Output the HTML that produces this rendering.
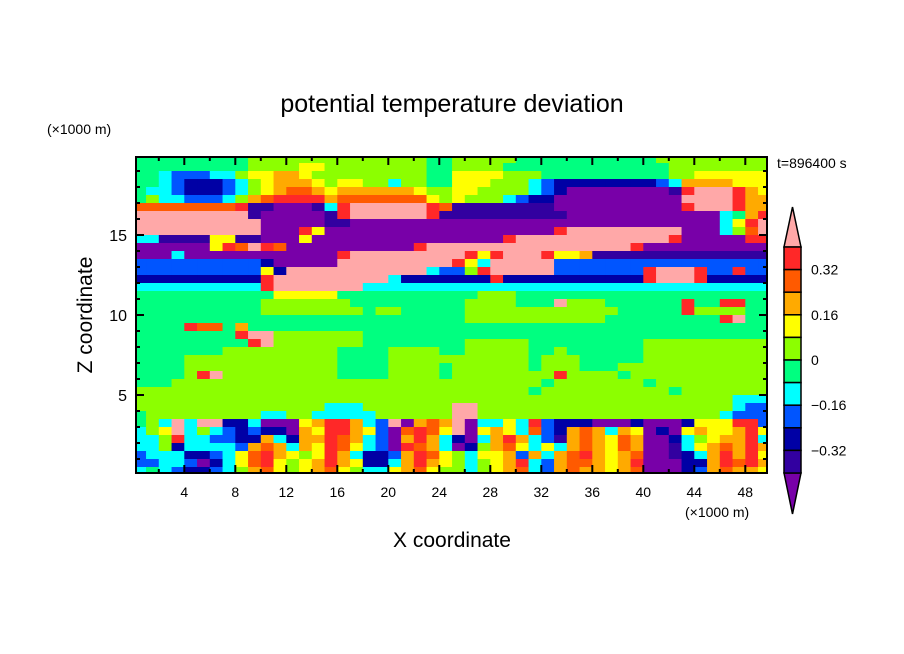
<!DOCTYPE html>
<html><head><meta charset="utf-8">
<style>
html,body{margin:0;padding:0;background:#fff;}
svg{display:block;font-family:"Liberation Sans",sans-serif;}
</style></head>
<body>
<svg id="chart" width="904" height="654" viewBox="0 0 904 654">
  <defs><clipPath id="plotclip"><rect x="136" y="157" width="631" height="316"/></clipPath></defs>
  <text x="452" y="112" text-anchor="middle" font-size="25">potential temperature deviation</text>
  <text x="47" y="134" font-size="14">(×1000 m)</text>
  <text x="777" y="168" font-size="14">t=896400 s</text>
  <text transform="translate(92,315) rotate(-90)" text-anchor="middle" font-size="21">Z coordinate</text>
  <text x="452" y="547" text-anchor="middle" font-size="21">X coordinate</text>
  <text x="685" y="517" font-size="14">(×1000 m)</text>
  <g id="cells" clip-path="url(#plotclip)"></g>
  <rect x="136" y="157" width="631" height="316" fill="none" stroke="#000" stroke-width="2"/>
  <g id="ticks"></g>
  <g id="cbar"></g>
</svg>
<script>
const levelKeys = ['P','R','O','A','Y','G','g','c','b','d','i','p'];
const levelColors = ['#ffa8a8','#ff2828','#ff5a00','#ffaa00','#ffff00','#8cff00','#00ff80','#00ffff','#0055ff','#0000a5','#3200a0','#7800a8'];
const cbarLabels = ['0.32','0.16','0','\u22120.16','\u22120.32'];
const cbarLabelIdx = [1,3,5,7,9];
const xTicks = [4,8,12,16,20,24,28,32,36,40,44,48];
const zTicks = [5,10,15];
// run-length encoded level rows (50 columns each), top (z=20) to bottom, 0.5 km per row
const gridRows = [
"g9G14g2G5g11G9",
"g9G4Y2G8g2G4g13G8",
"g2c1b3c2G1Y2A2Y1G9g2Y4G3g10G2Y6",
"g2c1b1d3b1c1G1Y1A3Y1G1Y2G2c1G2g2Y3G3c1b1d8b1c1A4Y3",
"g1c2b1d3b1c1G1Y1A1O2A1Y1A6Y1G2Y2G4c1b1d1p8i1R1P3R1A1Y1",
"g1G1c2b3c1G1A1O1R4A1O7Y1G1Y1G3c1b1d2p10P4R1A2",
"O8R1i2p3i1c1R1P6R1O1i8p10R1P3R1A2",
"P9i1p5i1R1P6R1i1i9p12c1g1A1R1",
"P10p5i2p8p21c1Y1R1P1",
"P10p3R1Y1p10p8R1P9p3c1G1O1P1",
"c2i4Y2i2p3Y1p11p4R1P12R1p5R2",
"p6Y1R1O1P1R1O1p10R1P2P14R1p10",
"p3c1p12R1P8P1R1Y1R1P3R1Y2A1i14",
"b10d1p5P9R1Y1c1P5b17",
"b10Y1d1P11c1b1b1G1R1P5b7R1P3R1b2R1b2",
"d10R1P9c1d4d3R1d11R1P3R1d5",
"c10R1P7c7c25",
"g11Y5g9g2G3g20",
"g10G7g8g1G4g3P1G3g6R1g2R2g2",
"g10G8g1G2g4g1G12g5R1G4g2",
"g25g1G11g9R1P1g2",
"g4R1O2g1A1g16g25",
"g8R1P2G7g7g25",
"g9R1P1G7g7g1G5g9G10",
"g7G9g4G4g1g1G5g2G1g6G10",
"g4G12g4G5G6g1G3g5G10",
"g4G12g4G4g1G6g1G3g3G12",
"g4G1R1P1G9g4G4g1G8R1G4g1G11",
"g3G22G7g1G7g1G9",
"G25G6g1G10g1G7",
"G25G22c3",
"G15c3G7P2G20c1b2",
"g1G9c2G2c5G6P2G19c1b3",
"gGcPcPPddcpppYARRAcbPpAOAPpccYcRbdddpppdpppdYYYRRb",
"cGYPcGcbdbddpAYRRAYbpOROYPpYAYcObdAOAcAYpdpYAYYARY",
"ccGRccbbddAcdAAROAcbpARAcdpcARAcbiAOAYOAppdcGYAARc",
"ccGdccccbAOAcAYROYcbpROAcpdGAOYcYcAOAYOAppicYAOARA",
"bcccddbcYORAYGYRAcddbAROYGcYYAbAcAORAYAOppidcARARY",
"bbccbpdcYORYGYARAYddcARAYGcGYARcbAOOAYARpppddARORA",
"cgcbddbcGAOYGYAOYGccYAOYGGcGYAOcbAOAAYAOpppdbAOAAY"
];
const NS='http://www.w3.org/2000/svg';
function mk(tag, attrs, parent){const e=document.createElementNS(NS,tag);for(const k in attrs)e.setAttribute(k,attrs[k]);parent.appendChild(e);return e;}
function xPx(v){return 133.3+12.75*v;}
function zPx(v){return 475-16*v;}
function decode(s){const out=[];s.replace(/([A-Za-z])(\d*)/g,(m,c,n)=>{const k=n?parseInt(n,10):1;for(let i=0;i<k;i++)out.push(c);return m;});while(out.length<50)out.push(out[out.length-1]||'g');return out.slice(0,50);}
const colorOf={};levelKeys.forEach((k,i)=>colorOf[k]=levelColors[i]);
const cells=document.getElementById('cells');
gridRows.forEach((rowStr,j)=>{
  const row=decode(rowStr);
  const zTop=20-0.5*j;
  for(let i=0;i<50;i++){
    const r=mk('rect',{x:xPx(i).toFixed(2),y:zPx(zTop).toFixed(2),width:13.3,height:8.5,fill:colorOf[row[i]]||'#00ff80'},cells);
    
    
  }
});
const ticks=document.getElementById('ticks');
for(let v=2;v<=48;v+=2){
  const major=(v%4===0), L=major?8:4;
  mk('line',{x1:xPx(v),x2:xPx(v),y1:473,y2:473-L,stroke:'#000','stroke-width':2},ticks);
  mk('line',{x1:xPx(v),x2:xPx(v),y1:157,y2:157+L,stroke:'#000','stroke-width':2},ticks);
}
xTicks.forEach(v=>{
  const t=mk('text',{x:xPx(v),y:497,'text-anchor':'middle','font-size':14},ticks);t.textContent=v;
  
  
});
for(let v=1;v<=19;v++){
  const major=(v%5===0), L=major?8:4;
  mk('line',{x1:136,x2:136+L,y1:zPx(v),y2:zPx(v),stroke:'#000','stroke-width':2},ticks);
  mk('line',{x1:767,x2:767-L,y1:zPx(v),y2:zPx(v),stroke:'#000','stroke-width':2},ticks);
}
zTicks.forEach(v=>{
  const t=mk('text',{x:127,y:zPx(v)+6,'text-anchor':'end','font-size':16},ticks);t.textContent=v;
  
  
});
const cb=document.getElementById('cbar');
const cx0=784,cx1=801,cTop=247,cBot=473,n=10,h=(cBot-cTop)/n;
mk('polygon',{points:`${cx0},${cTop} ${cx1},${cTop} ${(cx0+cx1)/2},207`,fill:levelColors[0],stroke:'#000','stroke-width':1.5},cb);
mk('polygon',{points:`${cx0},${cBot} ${cx1},${cBot} ${(cx0+cx1)/2},514`,fill:levelColors[11],stroke:'#000','stroke-width':1.5},cb);
for(let k=0;k<n;k++){
  const r=mk('rect',{x:cx0,y:cTop+k*h,width:cx1-cx0,height:h,fill:levelColors[k+1],stroke:'#000','stroke-width':1.5},cb);
  
  
}
cbarLabels.forEach((s,i)=>{
  const y=cTop+cbarLabelIdx[i]*h;
  const t=mk('text',{x:811,y:y+5,'font-size':14},cb);t.textContent=s;
  
  
});
</script>
</body></html>
